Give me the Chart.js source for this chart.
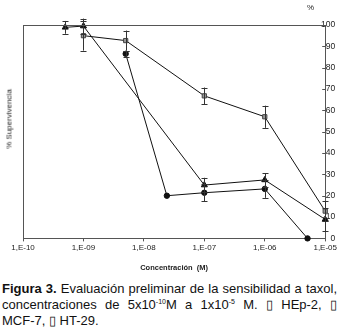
<!DOCTYPE html>
<html>
<head>
<meta charset="utf-8">
<script src="https://cdn.jsdelivr.net/npm/chart.js@4"></script>
<style>
  body { margin: 0; background: #fff; font-family: "Liberation Sans", Arial, sans-serif; }
  #wrap { position: relative; width: 339px; height: 278px; }
  #ylab { position: absolute; left: 9px; top: 119px; transform: translate(-50%, -50%) rotate(-90deg);
          font-size: 8px; color: #222; white-space: nowrap; }
  #pct { position: absolute; left: 307px; top: 3px; font-size: 8px; color: #222; }
  #caption { position: absolute; left: 2px; top: 281px; width: 335px; font-size: 13px; line-height: 16px;
             text-align: justify; color: #111; }
  #caption sup { font-size: 7px; line-height: 0; vertical-align: 5px; }
  .nb { white-space: nowrap; }
</style>
</head>
<body>
<div id="wrap">
  <canvas id="chart" width="339" height="278"></canvas>
  <div id="ylab">% Supervivencia</div>
  <div id="pct">%</div>
</div>
<div id="caption"><b>Figura 3.</b> Evaluación preliminar de la sensibilidad a taxol, concentraciones de 5x10<sup>-10</sup>M a 1x10<sup>-5</sup> M. ▯ <span class="nb">HEp-2,</span> ▯ <span class="nb">MCF-7,</span> ▯ <span class="nb">HT-29.</span></div>
<script>
// tick labels of the log axis
const xTickValues = [1e-10, 1e-9, 1e-8, 1e-7, 1e-6, 1e-5];
const xTickLabels = ["1,E-10", "1,E-09", "1,E-08", "1,E-07", "1,E-06", "1,E-05"];

// triangles
const concHEp2 = [5e-10, 1e-9, 1e-7, 1e-6, 1e-5];
const survHEp2 = [98.9, 99.5, 25.0, 27.4, 8.9];
const errHEp2 = [3, 3.5, 3.4, 3.2, 5.5];

// grey squares
const concMCF7 = [1e-9, 5e-9, 1e-7, 1e-6, 1e-5];
const survMCF7 = [95.0, 92.7, 66.8, 57.0, 12.8];
const errMCF7 = [7, 4.7, 3.9, 5.2, 4.6];

// black circles
const concHT29 = [5e-9, 2.4e-8, 1e-7, 1e-6, 5.1e-6];
const survHT29 = [86.5, 20.0, 21.4, 23.2, 0];
const errHT29 = [1.5, 0, 4, 4.2, 0];

function toPoints(xs, ys) {
    return xs.map((x, i) => ({x: x, y: ys[i]}));
}

const frameAndErrors = {
    id: "frameAndErrors",
    afterDatasetsDraw(chart) {
        const ctx = chart.ctx;
        const area = chart.chartArea;
        const yScale = chart.scales.y;
        ctx.save();
        // error bars
        ctx.strokeStyle = "#333";
        ctx.lineWidth = 1;
        chart.data.datasets.forEach((ds, di) => {
            const meta = chart.getDatasetMeta(di);
            meta.data.forEach((pt, i) => {
                const e = ds.errors[i];
                if (!e) return;
                const yTop = yScale.getPixelForValue(ds.data[i].y + e);
                const yBot = yScale.getPixelForValue(ds.data[i].y - e);
                const x = Math.round(pt.x) + 0.5;
                ctx.beginPath();
                ctx.moveTo(x, yTop); ctx.lineTo(x, yBot);
                ctx.moveTo(x - 3, Math.round(yTop) + 0.5); ctx.lineTo(x + 3, Math.round(yTop) + 0.5);
                ctx.moveTo(x - 3, Math.round(yBot) + 0.5); ctx.lineTo(x + 3, Math.round(yBot) + 0.5);
                ctx.stroke();
            });
        });
        // top and left frame, inward ticks of the right axis
        ctx.strokeStyle = "#555";
        ctx.beginPath();
        ctx.moveTo(area.left, Math.round(area.top) + 0.5);
        ctx.lineTo(area.right, Math.round(area.top) + 0.5);
        ctx.moveTo(Math.round(area.left) + 0.5, area.top);
        ctx.lineTo(Math.round(area.left) + 0.5, area.bottom);
        yScale.ticks.forEach(t => {
            const py = Math.round(yScale.getPixelForValue(t.value)) + 0.5;
            ctx.moveTo(area.right - 3, py); ctx.lineTo(area.right, py);
        });
        ctx.stroke();
        ctx.restore();
    }
};

new Chart("chart", {
    type: "line",
    data: {
        datasets: [
            {
                label: "HEp-2",
                data: toPoints(concHEp2, survHEp2),
                errors: errHEp2,
                borderColor: "#111",
                borderWidth: 1,
                pointStyle: "triangle",
                pointRadius: 3.5,
                pointBackgroundColor: "#111",
                pointBorderColor: "#111",
                clip: false
            },
            {
                label: "MCF-7",
                data: toPoints(concMCF7, survMCF7),
                errors: errMCF7,
                borderColor: "#111",
                borderWidth: 1,
                pointStyle: "rect",
                pointRadius: 3,
                pointBackgroundColor: "#999",
                pointBorderColor: "#444",
                clip: false
            },
            {
                label: "HT-29",
                data: toPoints(concHT29, survHT29),
                errors: errHT29,
                borderColor: "#111",
                borderWidth: 1,
                pointStyle: "circle",
                pointRadius: 2.7,
                pointBackgroundColor: "#111",
                pointBorderColor: "#111",
                clip: false
            }
        ]
    },
    options: {
        responsive: false,
        animation: false,
        layout: { padding: { left: 23, right: 13, top: 25, bottom: 4 } },
        plugins: { legend: { display: false }, tooltip: { enabled: false } },
        scales: {
            x: {
                type: "logarithmic",
                min: 1e-10,
                max: 1e-5,
                afterBuildTicks: (scale) => {
                    scale.ticks = xTickValues.map(v => ({value: v}));
                },
                ticks: {
                    autoSkip: false,
                    maxRotation: 0,
                    padding: 2,
                    color: "#222",
                    font: { family: "Liberation Sans", size: 8 },
                    callback: (v, i) => xTickLabels[i]
                },
                grid: { drawOnChartArea: false, tickLength: 3, color: "#555" },
                border: { color: "#555" },
                title: {
                    display: true,
                    text: "Concentración  (M)",
                    color: "#222",
                    font: { family: "Liberation Sans", size: 7.5, weight: "bold" },
                    padding: { top: 8, bottom: 2 }
                }
            },
            y: {
                position: "right",
                min: 0,
                max: 100,
                afterFit: (scale) => { scale.width = 0; },
                ticks: {
                    stepSize: 10,
                    mirror: true,
                    padding: 10,
                    color: "#222",
                    font: { family: "Liberation Sans", size: 8.5 }
                },
                grid: { drawOnChartArea: false, drawTicks: false },
                border: { color: "#555" }
            }
        }
    },
    plugins: [frameAndErrors]
});
</script>
</body>
</html>
